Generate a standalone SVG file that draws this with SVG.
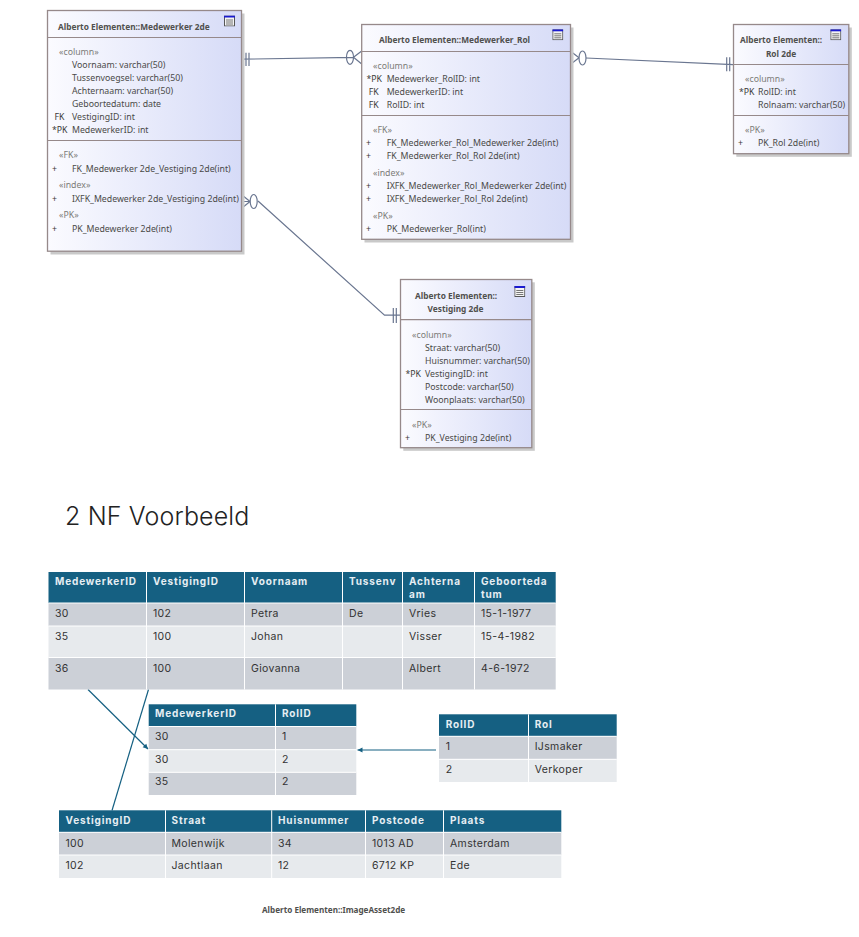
<svg xmlns="http://www.w3.org/2000/svg" width="859" height="937" viewBox="0 0 859 937">
<style>
text{font-family:"Noto Sans","Open Sans","Liberation Sans",sans-serif;font-size:8.75px;fill:#4a4a48}
.t{font-weight:700;font-size:8.3px;fill:#50504e}
.s{fill:#7c7c78}
.p{fill:#3c3c3a}
.box{fill:url(#g);stroke:#96898a;stroke-width:1.3}
.sh{fill:#c9c9c9}
.div{stroke:#96898a;stroke-width:1.2;fill:none}
.er{stroke:#6a7690;stroke-width:1.2;fill:none}
.tl{stroke:#156082;stroke-width:1.2;fill:none}
.tt text{font-family:Inter,"Noto Sans",sans-serif;font-size:10.5px;fill:#333;letter-spacing:.35px}
.tt .h{font-weight:700;font-size:10px;fill:#e6eef3;letter-spacing:.85px}
.hd{fill:#156082}.d{fill:#ccd0d7}.l{fill:#e7eaed}
.gr{stroke:#fff;stroke-width:1;fill:none}
</style>
<defs>
<linearGradient id="g" x1="0" x2="1" y1="0" y2="0"><stop offset="0" stop-color="#fbfbff"/><stop offset="1" stop-color="#d6dbf7"/></linearGradient>
<marker id="arr" markerUnits="userSpaceOnUse" markerWidth="6" markerHeight="6" refX="5" refY="3" orient="auto"><path d="M0 0.4L5 3L0 5.6Z" fill="#156082"/></marker>
<symbol id="ic" width="11" height="11" viewBox="0 0 11 11"><rect x=".5" y=".5" width="10" height="10" fill="#f4f4f4" stroke="#555"/><rect x="0" y="0" width="11" height="2" fill="#1a1ad0"/><path d="M2 4.5H9M2 6.5H9M2 8.5H9" stroke="#555" stroke-width=".8"/></symbol>
</defs>

<g id="connectors">
<path class="er" d="M242 59.2L353.500 57.3M246 52.7V66M249 52.7V66M353.5 57.3L361.7 51M353.5 57.3L361.7 64"/>
<ellipse class="er" cx="350" cy="57.3" rx="3.5" ry="7"/>
<path class="er" d="M586 58L733 64.700M726.7 57.3V71.3M729.7 57.3V71.3M579 57.8L570.6 51.3M579 57.8L570.6 64.3"/>
<ellipse class="er" cx="582.5" cy="58" rx="3.5" ry="7"/>
<path class="er" d="M242 201.5H250M250 201.5L242 195M250 201.5L242 208M258 201L384.5 315.2H400.3M393.3 308V323M396.3 308V323"/>
<ellipse class="er" cx="253.7" cy="201.5" rx="3.5" ry="7"/>
<path class="tl" d="M88 689.5L148 749" marker-end="url(#arr)"/>
<path class="tl" d="M148.5 689.5L112 810.5"/>
<path class="tl" d="M436 750H357.500" marker-end="url(#arr)"/>
</g>

<g id="medewerker-2de">
<rect class="sh" x="50.500" y="13.500" width="194" height="241"/>
<rect class="box" x="47.500" y="10.500" width="194" height="240.700"/>
<path class="div" d="M47.500 37.500H241.500M47.500 140.500H241.500"/>
<use href="#ic" x="224" y="15.500"/>
<text class="t" x="58" y="29.500">Alberto Elementen::Medewerker 2de</text>
<text class="s" x="59" y="55">«column»</text>
<text x="72" y="68">Voornaam: varchar(50)</text>
<text x="72" y="81">Tussenvoegsel: varchar(50)</text>
<text x="72" y="94">Achternaam: varchar(50)</text>
<text x="72" y="107">Geboortedatum: date</text>
<text class="p" x="54.500" y="120">FK</text><text x="72" y="120">VestigingID: int</text>
<text class="p" x="52" y="133">*PK</text><text x="72" y="133">MedewerkerID: int</text>
<text class="s" x="59" y="158">«FK»</text>
<text class="p" x="52" y="171.500">+</text><text x="72" y="171.500">FK_Medewerker 2de_Vestiging 2de(int)</text>
<text class="s" x="59" y="188">«index»</text>
<text class="p" x="52" y="201.500">+</text><text x="72" y="201.500">IXFK_Medewerker 2de_Vestiging 2de(int)</text>
<text class="s" x="59" y="218">«PK»</text>
<text class="p" x="52" y="231.500">+</text><text x="72" y="231.500">PK_Medewerker 2de(int)</text>
</g>

<g id="medewerker-rol">
<rect class="sh" x="364.500" y="27.500" width="209" height="215"/>
<rect class="box" x="361.700" y="24.500" width="208.800" height="214.800"/>
<path class="div" d="M361.700 51.500H570.500M361.700 115.500H570.500"/>
<use href="#ic" x="552.300" y="29.300"/>
<text class="t" x="379" y="43">Alberto Elementen::Medewerker_Rol</text>
<text class="s" x="373" y="68.500">«column»</text>
<text class="p" x="366.500" y="82">*PK</text><text x="386.700" y="82">Medewerker_RolID: int</text>
<text class="p" x="368.700" y="95">FK</text><text x="386.700" y="95">MedewerkerID: int</text>
<text class="p" x="368.700" y="108">FK</text><text x="386.700" y="108">RolID: int</text>
<text class="s" x="373" y="133">«FK»</text>
<text class="p" x="366" y="146">+</text><text x="386.700" y="146">FK_Medewerker_Rol_Medewerker 2de(int)</text>
<text class="p" x="366" y="159">+</text><text x="386.700" y="159">FK_Medewerker_Rol_Rol 2de(int)</text>
<text class="s" x="373" y="176">«index»</text>
<text class="p" x="366" y="189">+</text><text x="386.700" y="189">IXFK_Medewerker_Rol_Medewerker 2de(int)</text>
<text class="p" x="366" y="202">+</text><text x="386.700" y="202">IXFK_Medewerker_Rol_Rol 2de(int)</text>
<text class="s" x="373" y="218.500">«PK»</text>
<text class="p" x="366" y="232">+</text><text x="386.700" y="232">PK_Medewerker_Rol(int)</text>
</g>

<g id="rol-2de">
<rect class="sh" x="736.300" y="27.500" width="115.500" height="129.300"/>
<rect class="box" x="733.500" y="24.500" width="115.300" height="129.200"/>
<path class="div" d="M733.500 64.500H848.800M733.500 115.500H848.800"/>
<use href="#ic" x="830.300" y="29.300"/>
<text class="t" x="740" y="43">Alberto Elementen::</text>
<text class="t" x="781" y="56.500" text-anchor="middle">Rol 2de</text>
<text class="s" x="745" y="82">«column»</text>
<text class="p" x="739" y="95">*PK</text><text x="758" y="95">RolID: int</text>
<text x="758" y="108">Rolnaam: varchar(50)</text>
<text class="s" x="745" y="133">«PK»</text>
<text class="p" x="738" y="146">+</text><text x="758" y="146">PK_Rol 2de(int)</text>
</g>

<g id="vestiging-2de">
<rect class="sh" x="403.300" y="282.300" width="131.500" height="168.500"/>
<rect class="box" x="400.500" y="279.500" width="131.300" height="168.200"/>
<path class="div" d="M400.500 319.700H531.800M400.500 409.500H531.800"/>
<use href="#ic" x="514.300" y="286"/>
<text class="t" x="415" y="298.500">Alberto Elementen::</text>
<text class="t" x="455.500" y="311.500" text-anchor="middle">Vestiging 2de</text>
<text class="s" x="412" y="337.500">«column»</text>
<text x="425" y="350.500">Straat: varchar(50)</text>
<text x="425" y="363.500">Huisnummer: varchar(50)</text>
<text class="p" x="405.500" y="376.500">*PK</text><text x="425" y="376.500">VestigingID: int</text>
<text x="425" y="389.500">Postcode: varchar(50)</text>
<text x="425" y="402.500">Woonplaats: varchar(50)</text>
<text class="s" x="412" y="427.500">«PK»</text>
<text class="p" x="405" y="441">+</text><text x="425" y="441">PK_Vestiging 2de(int)</text>
</g>

<text id="title-2nf" x="65" y="525" style="font-family:Inter,'Noto Sans',sans-serif;font-size:25px;font-weight:300;letter-spacing:.15px;fill:#222">2 NF Voorbeeld</text>

<g id="table-medewerker" class="tt">
<rect class="hd" x="48.500" y="572" width="507.200" height="31"/>
<rect class="d" x="48.500" y="603" width="507.200" height="23"/>
<rect class="l" x="48.500" y="626" width="507.200" height="31.500"/>
<rect class="d" x="48.500" y="657.500" width="507.200" height="32"/>
<path class="gr" d="M146.500 572V689.500M244.500 572V689.500M342.500 572V689.500M402.500 572V689.500M474.500 572V689.500M48.500 626H555.700M48.500 657.500H555.700"/>
<path class="gr" stroke-width="2" d="M48.500 603H555.700"/>
<text class="h" x="55" y="585">MedewerkerID</text><text class="h" x="153" y="585">VestigingID</text><text class="h" x="251" y="585">Voornaam</text><text class="h" x="349" y="585">Tussenv</text><text class="h" x="409" y="585">Achterna</text><text class="h" x="409" y="598">am</text><text class="h" x="481" y="585">Geboorteda</text><text class="h" x="481" y="598">tum</text>
<text x="55" y="616.500">30</text><text x="153" y="616.500">102</text><text x="251" y="616.500">Petra</text><text x="349" y="616.500">De</text><text x="409" y="616.500">Vries</text><text x="481" y="616.500">15-1-1977</text>
<text x="55" y="639.500">35</text><text x="153" y="639.500">100</text><text x="251" y="639.500">Johan</text><text x="409" y="639.500">Visser</text><text x="481" y="639.500">15-4-1982</text>
<text x="55" y="671.500">36</text><text x="153" y="671.500">100</text><text x="251" y="671.500">Giovanna</text><text x="409" y="671.500">Albert</text><text x="481" y="671.500">4-6-1972</text>
</g>

<g id="table-medewerker-rol" class="tt">
<rect class="hd" x="148.700" y="704.300" width="207.600" height="22"/>
<rect class="d" x="148.700" y="726.300" width="207.600" height="23.400"/>
<rect class="l" x="148.700" y="749.700" width="207.600" height="22.600"/>
<rect class="d" x="148.700" y="772.300" width="207.600" height="22.700"/>
<path class="gr" d="M275.500 704.300V795M148.700 749.700H356.300M148.700 772.300H356.300"/>
<path class="gr" stroke-width="2" d="M148.700 726.500H356.300"/>
<text class="h" x="155" y="717">MedewerkerID</text><text class="h" x="282" y="717">RolID</text>
<text x="155" y="740">30</text><text x="282" y="740">1</text>
<text x="155" y="763">30</text><text x="282" y="763">2</text>
<text x="155" y="785">35</text><text x="282" y="785">2</text>
</g>

<g id="table-rol" class="tt">
<rect class="hd" x="439" y="714.300" width="177.700" height="22"/>
<rect class="d" x="439" y="736.300" width="177.700" height="23"/>
<rect class="l" x="439" y="759.300" width="177.700" height="22.700"/>
<path class="gr" d="M528.500 714.300V782M439 759.300H616.700"/>
<path class="gr" stroke-width="2" d="M439 736.300H616.700"/>
<text class="h" x="445.700" y="728">RolID</text><text class="h" x="534.700" y="728">Rol</text>
<text x="445.700" y="750">1</text><text x="534.700" y="750">IJsmaker</text>
<text x="445.700" y="773">2</text><text x="534.700" y="773">Verkoper</text>
</g>

<g id="table-vestiging" class="tt">
<rect class="hd" x="59" y="810.300" width="502.300" height="22"/>
<rect class="d" x="59" y="832.300" width="502.300" height="22.700"/>
<rect class="l" x="59" y="855" width="502.300" height="23"/>
<path class="gr" d="M165.500 810.300V878M271.700 810.300V878M365.500 810.300V878M443.500 810.300V878M59 855H561.300"/>
<path class="gr" stroke-width="2" d="M59 832.300H561.300"/>
<text class="h" x="65.500" y="824">VestigingID</text><text class="h" x="171.500" y="824">Straat</text><text class="h" x="278" y="824">Huisnummer</text><text class="h" x="372" y="824">Postcode</text><text class="h" x="450" y="824">Plaats</text>
<text x="65.500" y="846.500">100</text><text x="171.500" y="846.500">Molenwijk</text><text x="278" y="846.500">34</text><text x="372" y="846.500">1013 AD</text><text x="450" y="846.500">Amsterdam</text>
<text x="65.500" y="869">102</text><text x="171.500" y="869">Jachtlaan</text><text x="278" y="869">12</text><text x="372" y="869">6712 KP</text><text x="450" y="869">Ede</text>
</g>

<text id="image-asset-caption" class="t" x="262" y="913" style="font-size:8.150px">Alberto Elementen::ImageAsset2de</text>
</svg>
